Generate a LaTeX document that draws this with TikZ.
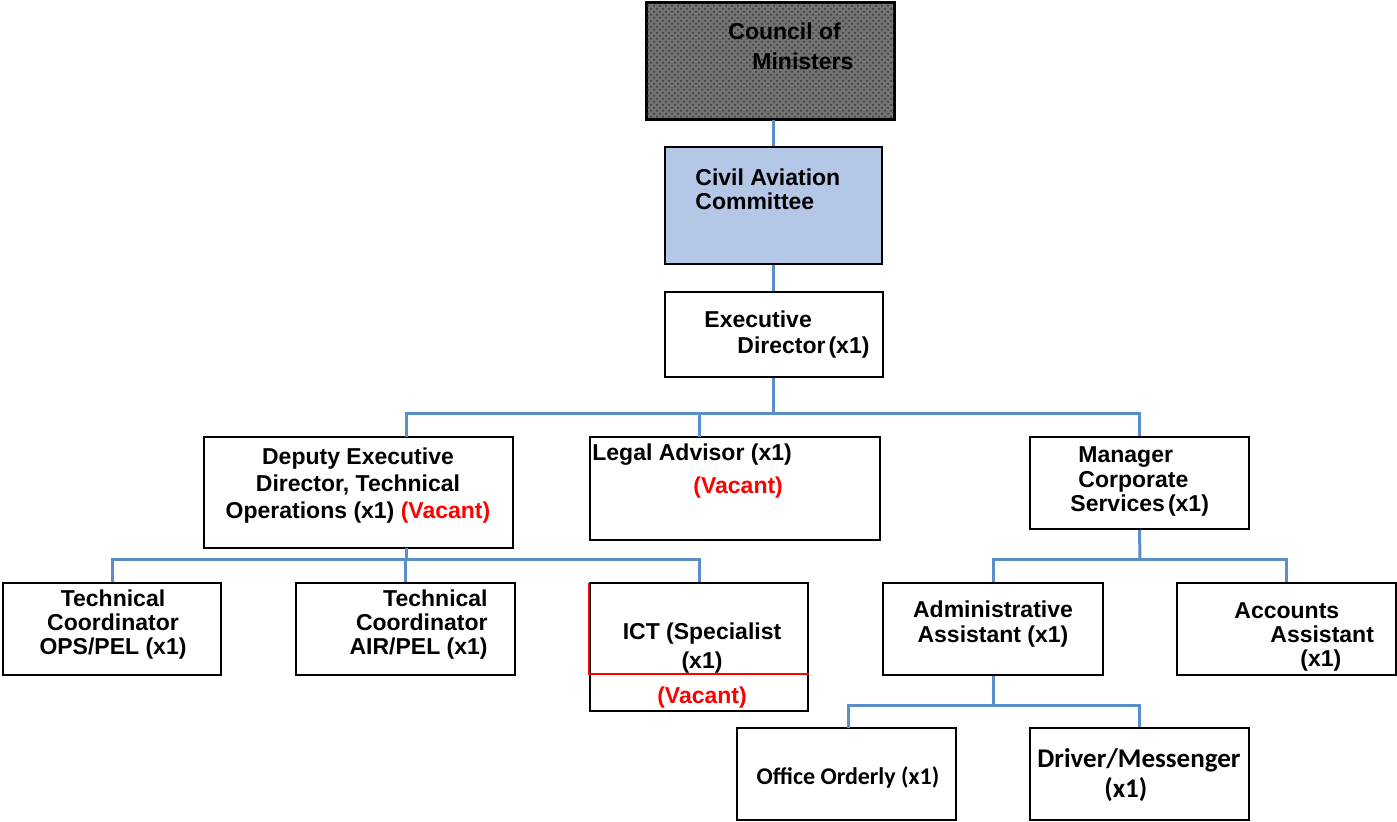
\documentclass[tikz,border=0pt]{standalone}
\usepackage{fontspec}
\setmainfont{Liberation Sans}
\newfontfamily\calib{Carlito}
\usetikzlibrary{patterns}
\definecolor{conncol}{HTML}{5B8FC9}
\definecolor{civilblue}{HTML}{B4C7E7}
\definecolor{vacred}{HTML}{FF0000}
\begin{document}
\begin{tikzpicture}[x=0.5pt,y=-0.5pt,
  box/.style={draw=black,line width=1pt,fill=white,inner sep=0pt},
  conn/.style={draw=conncol,line width=1.5pt},
  txt/.style={inner sep=0pt,font=\bfseries\fontsize{11.5}{#1}\selectfont},
  txt/.default=12.5,
  vac/.style={text=vacred}]
\useasboundingbox (0,0) rectangle (1397,822);
% boxes
\node[box,fill=black!55,minimum width=123.5pt,minimum height=58pt] (council) at (770.5,61) {};
\fill[pattern=crosshatch dots,pattern color=black!80] (council.south west) rectangle (council.north east);
\draw[line width=1pt] (council.south west) rectangle (council.north east);
\node[box,fill=civilblue,minimum width=108.5pt,minimum height=58.5pt] (civil) at (773.5,205.5) {};
\node[box,minimum width=109pt,minimum height=42.5pt] (exec) at (773.5,334.5) {};
\node[box,minimum width=154.5pt,minimum height=55.5pt] (deputy) at (358.5,492.5) {};
\node[box,minimum width=145pt,minimum height=51.5pt] (legal) at (735,488.5) {};
\node[box,minimum width=109.5pt,minimum height=46pt] (manager) at (1139.5,483) {};
\node[box,minimum width=109pt,minimum height=46pt] (ops) at (112,629) {};
\node[box,minimum width=109.5pt,minimum height=46pt] (air) at (405.5,629) {};
\node[box,minimum width=109pt,minimum height=64pt] (ict) at (699,647) {};
\draw[vacred,line width=1pt] ([yshift=-0.5pt]ict.north west) -- ([yshift=-46pt]ict.north west) -- ([yshift=-46pt]ict.north east);
\node[box,minimum width=110pt,minimum height=46pt] (admin) at (993,629) {};
\node[box,minimum width=109.5pt,minimum height=46pt] (accounts) at (1286.5,629) {};
\node[box,minimum width=109.5pt,minimum height=46pt] (office) at (846.5,774) {};
\node[box,minimum width=109.5pt,minimum height=46pt] (driver) at (1139.5,774) {};
% texts
\node[txt=15,align=left,anchor=west] (councilt) at (728,46) {Council of\\\hspace{12pt}Ministers};
\node[txt=12,align=left,anchor=west] (civilt) at (695,189) {Civil Aviation\\Committee};
\node[txt=13,align=left,anchor=west] (exect) at (704,335) {Executive\\\hspace{16.5pt}Director\hspace{1.5pt}(x1)};
\node[txt=13.5,align=center] (deputyt) at (358,486) {Deputy Executive\\Director, Technical\\Operations (x1) \textcolor{vacred}{(Vacant)}};
\node[txt=16.5,align=left,anchor=west] (legalt) at (592,471.5) {Legal Advisor (x1)\\\hspace{50.5pt}\textcolor{vacred}{(Vacant)}};
\node[txt=12.3,align=left,anchor=west] (managert) at (1070,481.5) {\hspace{4pt}Manager\\\hspace{4pt}Corporate\\Services\hspace{1.5pt}(x1)};
\node[txt=12,align=center] (opst) at (113,625) {Technical\\Coordinator\\OPS/PEL (x1)};
\node[txt=12,align=right,anchor=east] (airt) at (488,625) {Technical\hspace{3.5pt}\\Coordinator\\AIR/PEL (x1)};
\node[txt=14.5,align=center] (ictt) at (702,648.5) {ICT (Specialist\\(x1)};
\node[txt,vac] (ictv) at (702,698) {(Vacant)};
\node[txt=12.5,align=center] (admint) at (993,624.5) {Administrative\\Assistant (x1)};
\node[txt=12,align=left,anchor=west] (accountst) at (1234,637) {Accounts\\\hspace{18pt}Assistant\\\hspace{33pt}(x1)};
\node[inner sep=0pt,font=\calib\bfseries\fontsize{12}{12}\selectfont] (officet) at (848,777) {Office Orderly (x1)};
\node[inner sep=0pt,align=left,anchor=west,font=\calib\bfseries\fontsize{13.5}{15}\selectfont] (drivert) at (1037,775) {Driver/Messenger\\\hspace{33.5pt}(x1)};
% connectors
\coordinate (bus1) at (773.5,414);
\coordinate (deptop) at (406,437);
\coordinate (legtop) at (699,437);
\coordinate (depbot) at (406,548);
\coordinate (bus2) at (406,560);
\coordinate (bus3) at (1140,560);
\coordinate (bus4) at (993,706);
\coordinate (offtop) at (848,728);
\draw[conn] (civil.north) -- (civil.north |- council.south);
\draw[conn] (exec.north) -- (exec.north |- civil.south);
\draw[conn] (exec.south) -- (bus1);
\draw[conn] (deptop) -- (deptop |- bus1) -- (manager.north |- bus1) -- (manager.north);
\draw[conn] (legtop) -- (legtop |- bus1);
\draw[conn] (depbot) -- (bus2);
\draw[conn] (ops.north) -- (ops.north |- bus2) -- (ict.north |- bus2) -- (ict.north);
\draw[conn] (air.north) -- (air.north |- bus2);
\draw[conn] (manager.south) -- (bus3);
\draw[conn] (admin.north) -- (admin.north |- bus3) -- (accounts.north |- bus3) -- (accounts.north);
\draw[conn] (admin.south) -- (bus4);
\draw[conn] (offtop) -- (offtop |- bus4) -- (driver.north |- bus4) -- (driver.north);
\end{tikzpicture}
\end{document}
